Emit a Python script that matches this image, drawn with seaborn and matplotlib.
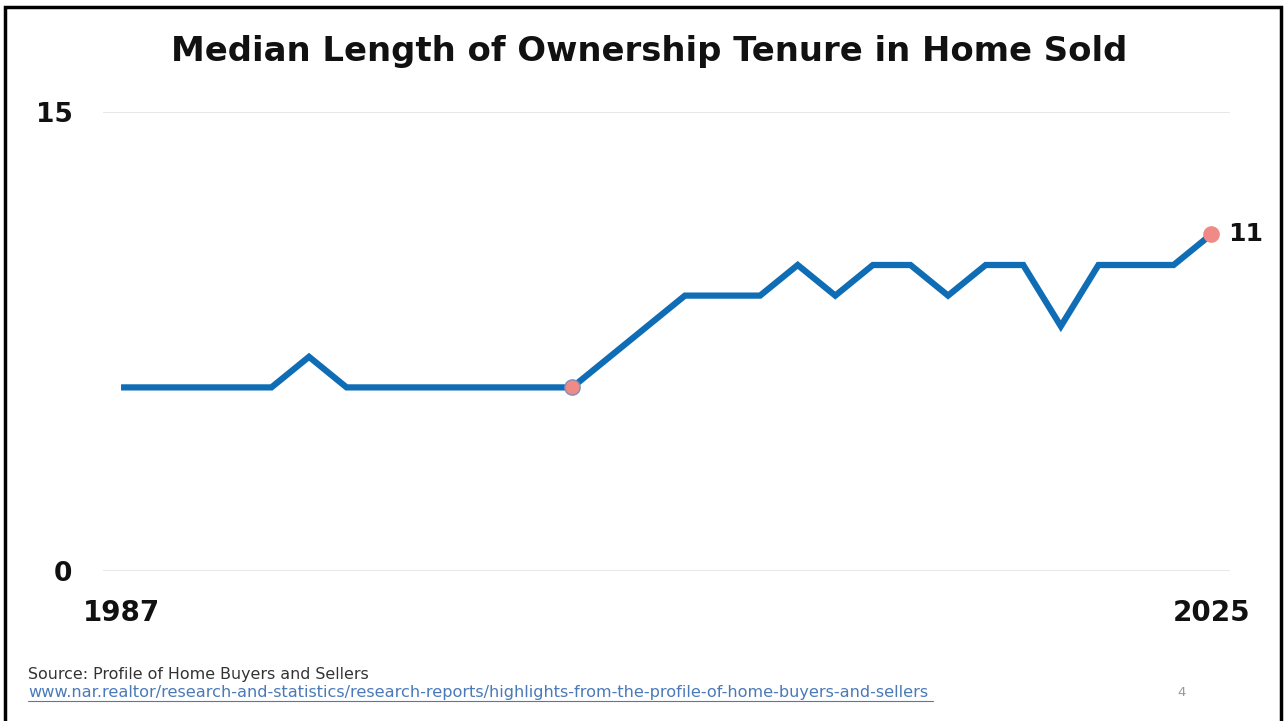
import matplotlib
matplotlib.use('Agg')
import matplotlib.pyplot as plt
import seaborn as sns
import pandas as pd
from matplotlib.patches import Rectangle

# data (survey points, evenly spaced)
point_idx = list(range(30))
tenure = [6, 6, 6, 6, 6, 7, 6, 6, 6, 6, 6, 6, 6, 7, 8, 9, 9, 9, 10, 9,
          10, 10, 9, 10, 10, 8, 10, 10, 10, 11]
x_tick_pos = [0, 29]
x_tick_labels = ['1987', '2025']
y_ticks = [0, 15]
highlight_idx = [12, 29]

df = pd.DataFrame({'idx': point_idx, 'tenure': tenure})

sns.set_theme(style='white')
plt.rcParams['font.family'] = ['DejaVu Sans']

W, H = 1284, 721
fig = plt.figure(figsize=(W / 100, H / 100), dpi=100)
ax = fig.add_axes([103 / W, 1 - 571 / H, (1230 - 103) / W, (571 - 112) / H])

blue = '#0f6db5'
pink = '#f08a86'

sns.lineplot(data=df, x='idx', y='tenure', ax=ax, color=blue, linewidth=4.5,
             solid_joinstyle='miter', solid_capstyle='butt')

hl = df[df['idx'].isin(highlight_idx)]
ax.plot(hl['idx'].iloc[:1], hl['tenure'].iloc[:1], 'o', color=pink, markersize=11,
        markeredgecolor='#7f8fb8', markeredgewidth=1, zorder=5)
ax.plot(hl['idx'].iloc[1:], hl['tenure'].iloc[1:], 'o', color=pink, markersize=12,
        markeredgewidth=0, zorder=5)
ax.text(hl['idx'].iloc[-1] + 0.45, hl['tenure'].iloc[-1], str(tenure[-1]),
        fontsize=18, fontweight='heavy', va='center', ha='left', color='#111111')

ax.set_xlim(-0.48, 29.5)
ax.set_ylim(0, 15)
ax.set_yticks(y_ticks)
ax.set_yticklabels([str(v) for v in y_ticks], fontsize=19, fontweight='heavy', color='#111111')
ax.set_xticks(x_tick_pos)
ax.set_xticklabels(x_tick_labels, fontsize=20, fontweight='heavy', color='#111111')
ax.tick_params(axis='y', length=0, pad=22)
ax.tick_params(axis='x', length=0, pad=20)
ax.set_xlabel('')
ax.set_ylabel('')
for s in ax.spines.values():
    s.set_visible(False)
for v in y_ticks:
    ax.axhline(v, color='#e3e3e3', linewidth=1.2, zorder=0)

fig.text(649 / W, 1 - 52 / H, 'Median Length of Ownership Tenure in Home Sold',
         ha='center', va='center', fontsize=24.4, fontweight='heavy', color='#111111')

fig.text(28 / W, 1 - 675 / H, 'Source: Profile of Home Buyers and Sellers',
         ha='left', va='center', fontsize=11.4, color='#333333')
fig.text(28 / W, 1 - 692 / H,
         'www.nar.realtor/research-and-statistics/research-reports/highlights-from-the-profile-of-home-buyers-and-sellers',
         ha='left', va='center', fontsize=11.62, color='#4a7ab8')
fig.add_artist(plt.Line2D([28 / W, 933 / W], [1 - 701 / H, 1 - 701 / H],
                          color='#4a7ab8', linewidth=0.8))
fig.text(1182 / W, 1 - 693 / H, '4', ha='center', va='center', fontsize=9.5, color='#999999')

# frame around the slide
fig.add_artist(Rectangle((5 / W, -0.05), (1281 - 5) / W, 1.05 - 7 / H,
                         transform=fig.transFigure, fill=False,
                         edgecolor='black', linewidth=2.5))

fig.savefig('out.png', dpi=100)
